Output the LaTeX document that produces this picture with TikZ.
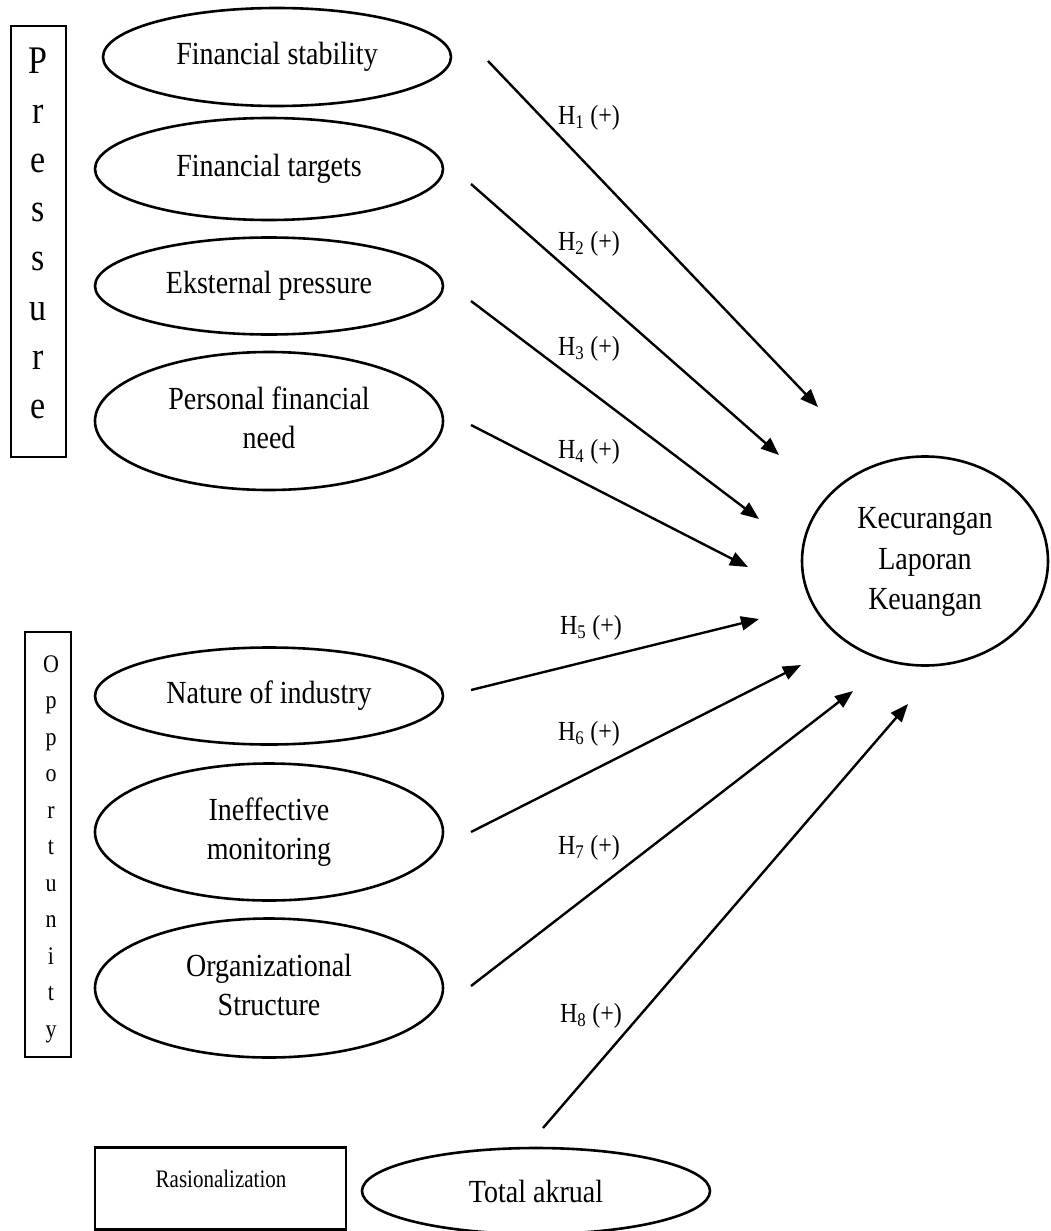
\documentclass[tikz,border=0pt]{standalone}
\usepackage{fontspec}
\usepackage{graphicx}
\setmainfont{Liberation Serif}
\usetikzlibrary{shapes.geometric,arrows.meta}
\newcommand{\vs}[1]{\scalebox{1}[1.15]{#1}}
\newcommand{\twol}[2]{\vs{\begin{tabular}{@{}c@{}}#1\\#2\end{tabular}}}
\begin{document}
\begin{tikzpicture}[x=1pt,y=-1pt,
  every node/.style={inner sep=0pt, outer sep=0pt},
  var/.style={draw, ellipse, line width=2.6pt, minimum width=348pt,
    font=\fontsize{28}{33.6}\selectfont, align=center},
  tall/.style={var, minimum height=138pt},
  short/.style={var, minimum height=98pt},
  grpbox/.style={draw, rectangle, line width=2.4pt},
  bigletter/.style={anchor=base, font=\fontsize{34}{40}\selectfont},
  smallletter/.style={anchor=base, font=\fontsize{22}{26}\selectfont},
  hyp/.style={font=\fontsize{24}{28}\selectfont},
  link/.style={line width=2.4pt, -{Triangle[length=18pt,width=14pt]}}
]
\useasboundingbox (0,0) rectangle (1050,1231);

% group boxes
\node[grpbox, minimum width=55pt, minimum height=431pt] (pbox) at (38.5,241.5) {};
\foreach \l [count=\i from 0] in {P,r,e,s,s,u,r,e}
  \node[bigletter] (pl\i) at (38, 74+49.2*\i) {\vs{\l}};
\node[grpbox, minimum width=46pt, minimum height=425pt] (obox) at (48,844.5) {};
\foreach \l [count=\i from 0] in {O,p,p,o,r,t,u,n,i,t,y}
  \node[smallletter] (ol\i) at (51, 672+36.5*\i) {\vs{\l}};
\node[grpbox, minimum width=251pt, minimum height=82pt] (rbox) at (220.5,1188.5) {};
\node[font=\fontsize{21}{25}\selectfont] (rtext) at (221,1179) {\scalebox{1}[1.2]{Rasionalization}};

% variables
\node[short, minimum height=98pt] (fs) at (277,57) {\vs{Financial stability}};
\node[short, minimum height=102pt] (ft) at (269,169) {\vs{Financial targets}};
\node[short, minimum height=97pt] (ep) at (269,286) {\vs{Eksternal pressure}};
\node[tall] (pf) at (269,421) {\twol{Personal financial}{need}};
\node[short, minimum height=97pt] (ni) at (269,696) {\vs{Nature of industry}};
\node[tall, minimum height=137pt] (im) at (269,832) {\twol{Ineffective}{monitoring}};
\node[tall, minimum height=139pt] (os) at (269,988) {\twol{Organizational}{Structure}};
\node[var, minimum height=86pt] (ta) at (536,1191) {\vs{Total akrual}};
\node[draw, ellipse, line width=2.6pt, minimum width=246pt, minimum height=209pt,
  font=\fontsize{28}{34.8}\selectfont, align=center] (klk) at (925,561)
  {\vs{\begin{tabular}{@{}c@{}}Kecurangan\\Laporan\\Keuangan\end{tabular}}};

% free ends of arrows
\coordinate (s1) at (488,61);  \coordinate (t1) at (818,407);
\coordinate (s2) at (471,184); \coordinate (t2) at (779,455);
\coordinate (s3) at (471,301); \coordinate (t3) at (759,519);
\coordinate (s4) at (471,425); \coordinate (t4) at (748,567);
\coordinate (s5) at (471,690); \coordinate (t5) at (759,619);
\coordinate (s6) at (471,832); \coordinate (t6) at (801,665);
\coordinate (s7) at (471,986); \coordinate (t7) at (853,691);
\coordinate (s8) at (543,1128); \coordinate (t8) at (908,704);

\foreach \i in {1,...,8} \draw[link] (s\i) -- (t\i);

% hypothesis labels
\node[hyp] (h1) at (589,118) {\vs{H\textsubscript{1} (+)}};
\node[hyp] (h2) at (589,244) {\vs{H\textsubscript{2} (+)}};
\node[hyp] (h3) at (589,349) {\vs{H\textsubscript{3} (+)}};
\node[hyp] (h4) at (589,452) {\vs{H\textsubscript{4} (+)}};
\node[hyp] (h5) at (591,628) {\vs{H\textsubscript{5} (+)}};
\node[hyp] (h6) at (589,734) {\vs{H\textsubscript{6} (+)}};
\node[hyp] (h7) at (589,848) {\vs{H\textsubscript{7} (+)}};
\node[hyp] (h8) at (591,1016) {\vs{H\textsubscript{8} (+)}};
\end{tikzpicture}
\end{document}
